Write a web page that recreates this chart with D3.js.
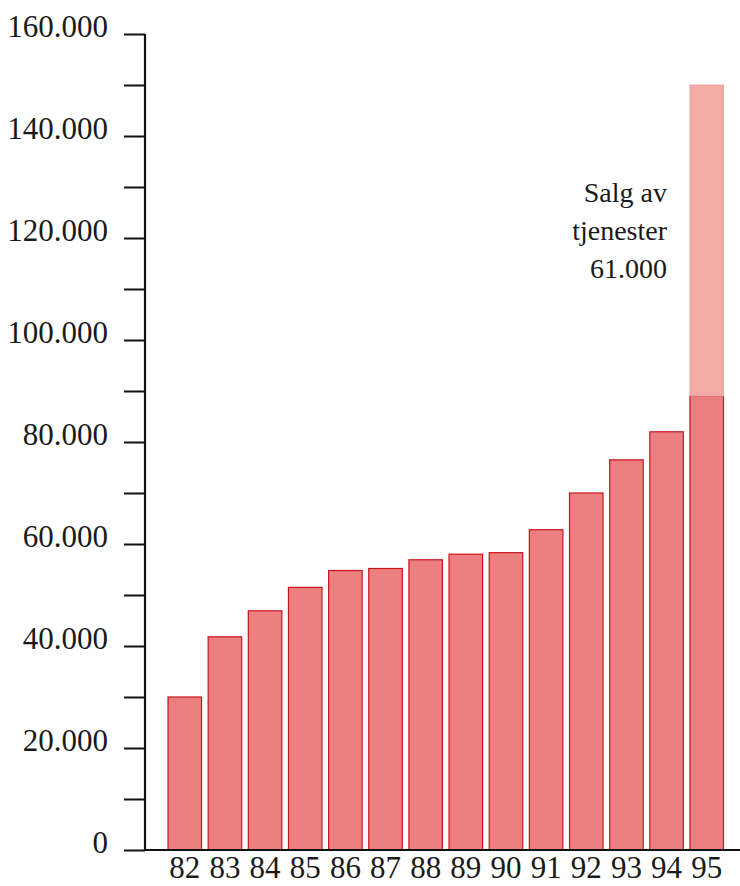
<!DOCTYPE html>
<html><head><meta charset="utf-8">
<script src="https://cdn.jsdelivr.net/npm/d3@7"></script>
<style>body{margin:0;background:#fff}svg{display:block}</style>
</head><body>
<svg id="c" width="740" height="886"></svg>
<script>
const years = ["82","83","84","85","86","87","88","89","90","91","92","93","94","95"];
const values = [30000,41800,46900,51500,54800,55200,56900,58000,58300,62800,70000,76500,82000,89000];
const services = [0,0,0,0,0,0,0,0,0,0,0,0,0,61000];
const yTicks = [0,20000,40000,60000,80000,100000,120000,140000,160000];
const yMinorTicks = [0,10000,20000,30000,40000,50000,60000,70000,80000,90000,100000,110000,120000,130000,140000,150000,160000];
const annotationLines = ["Salg av","tjenester","61.000"];

const svg = d3.select("#c");
const font = "Liberation Serif, DejaVu Serif, serif";
const loc = d3.formatLocale({decimal:",",thousands:".",grouping:[3],currency:["",""]});
const fmt = loc.format(",d");

const y = d3.scaleLinear().domain([0,160000]).range([850,34]);
const x = d3.scaleBand().domain(years).range([164.7,726.8]).paddingInner(0.165).paddingOuter(0.0825);

// bars
const g = svg.append("g");
g.selectAll("rect.base").data(years).join("rect")
  .attr("x", d=>x(d)).attr("width", x.bandwidth())
  .attr("y", (d,i)=>y(values[i])).attr("height",(d,i)=>y(0)-y(values[i]))
  .attr("fill","#ec8080").attr("stroke","#c8141e").attr("stroke-width",1.2);
g.selectAll("rect.top").data(years.filter((d,i)=>services[i]>0)).join("rect")
  .attr("x", d=>x(d)).attr("width", x.bandwidth())
  .attr("y", d=>{const i=years.indexOf(d);return y(values[i]+services[i]);})
  .attr("height", d=>{const i=years.indexOf(d);return y(values[i])-y(values[i]+services[i]);})
  .attr("fill","#f5aaa6").attr("stroke","#e89a96").attr("stroke-width",0.8);

// y axis
const ya = svg.append("g").attr("transform","translate(145,0)")
  .call(d3.axisLeft(y).tickValues(yMinorTicks).tickSize(21).tickFormat(""));
ya.select(".domain").attr("stroke","#111").attr("stroke-width",2.2).attr("d","M0,34V851");
ya.selectAll(".tick line").attr("stroke","#111").attr("stroke-width",2);
svg.append("g").selectAll("text").data(yTicks).join("text")
  .attr("x",108).attr("y",d=>y(d)+3)
  .attr("text-anchor","end").attr("font-family",font).attr("font-size",31).attr("fill","#1a1a1a")
  .text(d=>fmt(d));

// x axis
const xa = svg.append("g").attr("transform","translate(0,850)")
  .call(d3.axisBottom(x).tickSize(0));
xa.attr("font-family",font).attr("font-size",31);
xa.select(".domain").attr("stroke","#111").attr("stroke-width",2).attr("d","M145,0H740");
xa.selectAll(".tick text").attr("font-family",font).attr("font-size",31).attr("fill","#1a1a1a")
  .attr("dy",null).attr("y",28);

// annotation
svg.append("g").selectAll("text").data(annotationLines).join("text")
  .attr("x",667).attr("y",(d,i)=>202+i*38)
  .attr("text-anchor","end").attr("font-family",font).attr("font-size",28).attr("fill","#1a1a1a")
  .text(d=>d);
</script>
</body></html>
